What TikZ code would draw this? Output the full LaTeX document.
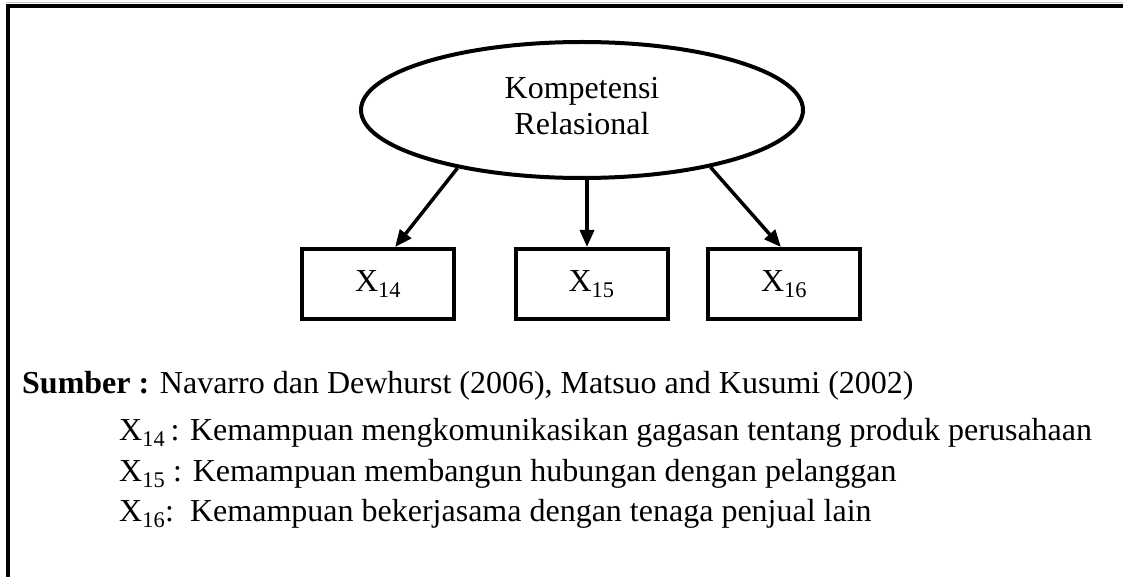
\documentclass[tikz,border=0pt]{standalone}
\usepackage{fontspec}
\setmainfont{Liberation Serif}
\usetikzlibrary{arrows.meta,shapes.geometric,calc}
\begin{document}
\begin{tikzpicture}[x=1pt,y=-1pt,
  txt/.style={font=\fontsize{32}{36}\selectfont, inner sep=0pt},
  latent/.style={draw, line width=4pt, ellipse, minimum width=442pt, minimum height=136pt, inner sep=0pt},
  indicator/.style={draw, line width=4pt, minimum width=152pt, minimum height=70pt, inner sep=0pt, font=\fontsize{32}{36}\selectfont},
  link/.style={line width=3.5pt, -{Triangle[length=17pt,width=14pt]}}]
\useasboundingbox (0,0) rectangle (1123,577);
% frame
\draw[gray!45, line width=1pt] (6,2.5) -- (1123,2.5);
\draw[line width=4pt] (6,6) -- (1123,6);
\draw[line width=4pt] (8,4) -- (8,577);
% construct and indicators
\node[latent] (ell) at (582,110) {};
\node[txt, align=center] (elltxt) at (582,106) {Kompetensi\\Relasional};
\node[indicator] (b14) at (378,284) {X\textsubscript{14}};
\node[indicator] (b15) at (591.5,284) {X\textsubscript{15}};
\node[indicator] (b16) at (784,284) {X\textsubscript{16}};
\draw[link] (ell.205.2) -- ($(b14.north west)!0.61!(b14.north east)$);
\draw[link] ([xshift=5pt]ell.south) -- ([xshift=5pt]ell.south |- b15.north);
\draw[link] (ell.336.5) -- ($(b16.north west)!0.48!(b16.north east)$);
% legend
\node[txt, anchor=base west] (src) at (22,393) {\textbf{Sumber :} Navarro dan Dewhurst (2006), Matsuo and Kusumi (2002)};
\node[txt, anchor=base west] (l14) at (119,440) {X\textsubscript{14}\,: Kemampuan mengkomunikasikan gagasan tentang produk perusahaan};
\node[txt, anchor=base west] (l15) at (119,481) {X\textsubscript{15} : Kemampuan membangun hubungan dengan pelanggan};
\node[txt, anchor=base west] (l16) at (119,521) {X\textsubscript{16}:\ \ Kemampuan bekerjasama dengan tenaga penjual lain};
\end{tikzpicture}
\end{document}
